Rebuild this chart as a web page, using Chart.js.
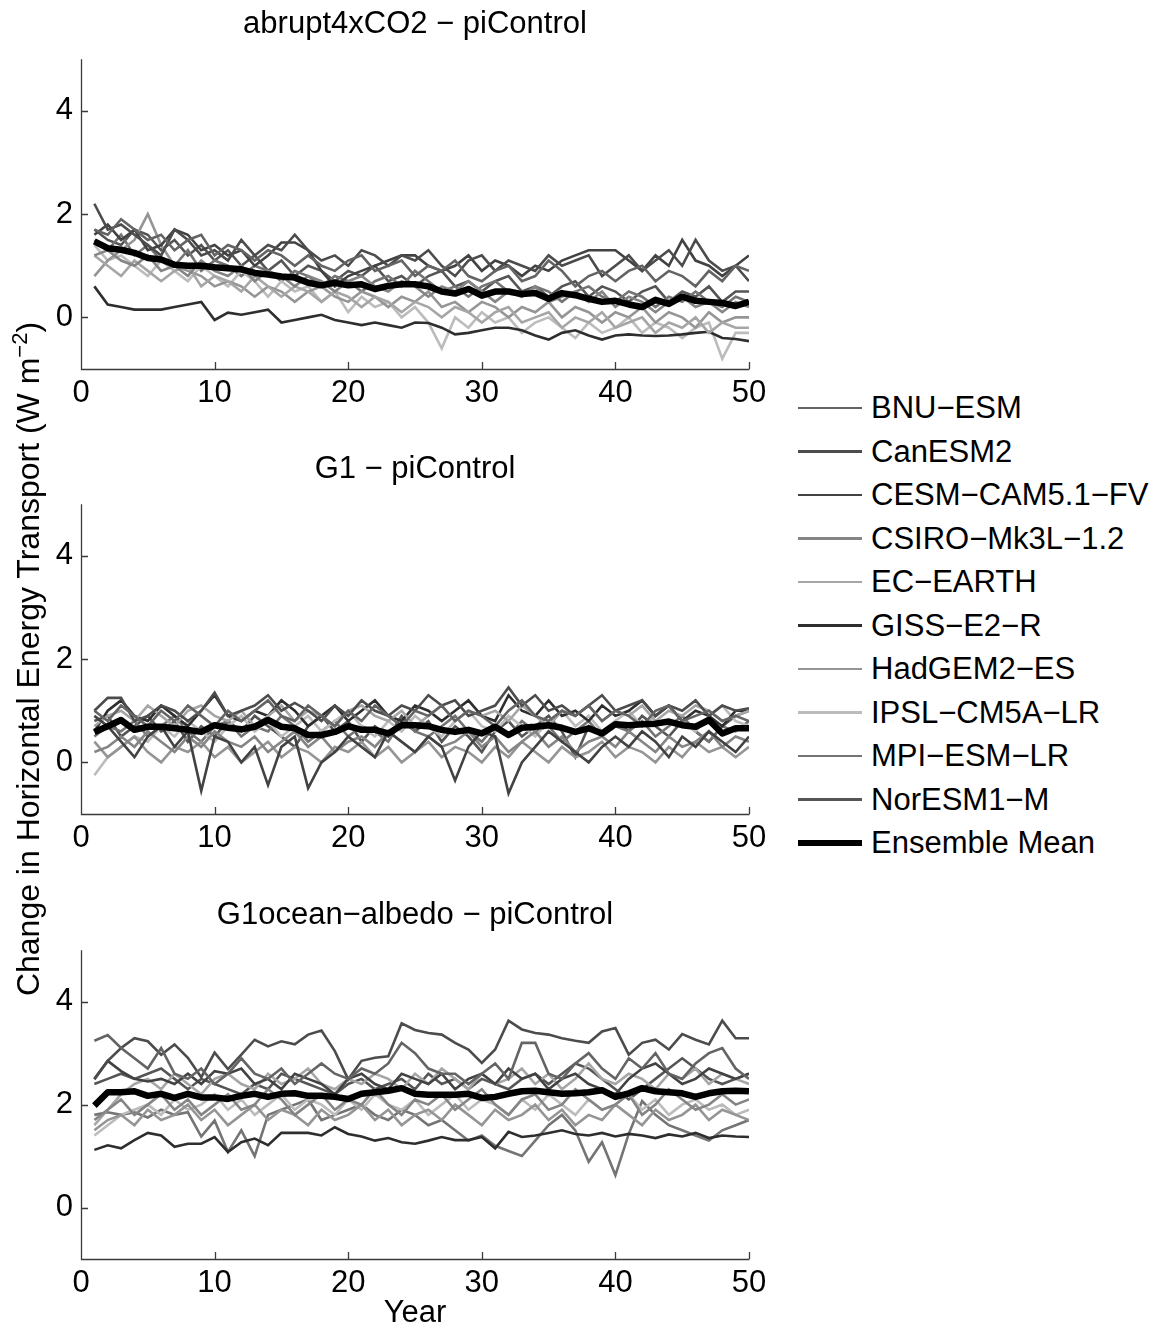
<!DOCTYPE html>
<html>
<head>
<title>Change in Horizontal Energy Transport</title>
<script src="https://cdn.jsdelivr.net/npm/chart.js"></script>
<style>
  body { margin: 0; background: #fff; width: 1162px; height: 1332px; position: relative; overflow: hidden;
         font-family: "Liberation Sans", Arial, sans-serif; color: #000; }
  .panel { position: absolute; left: 0; }
  #ytitle { position: absolute; left: -372px; top: 639px; width: 800px; height: 40px; line-height: 40px;
            text-align: center; font-size: 32px; transform: rotate(-90deg); white-space: nowrap; }
  #ytitle sup { font-size: 22px; vertical-align: 12px; line-height: 0; }
  .lg-line { position: absolute; left: 798px; width: 64px; }
  .lg-text { position: absolute; left: 871px; font-size: 31px; line-height: 36px; white-space: nowrap; }
</style>
</head>
<body>
<div class="panel" style="top:0px"><canvas id="abrupt" width="780" height="414"></canvas></div>
<div class="panel" style="top:445px"><canvas id="g1" width="780" height="414"></canvas></div>
<div class="panel" style="top:891px"><canvas id="g1ocean" width="780" height="441"></canvas></div>
<div id="ytitle">Change in Horizontal Energy Transport (W m<sup>−2</sup>)</div>
<div id="legend"></div>

<script>
// x axis: model years
const years = [1,2,3,4,5,6,7,8,9,10,11,12,13,14,15,16,17,18,19,20,21,22,23,24,25,
               26,27,28,29,30,31,32,33,34,35,36,37,38,39,40,41,42,43,44,45,46,47,48,49,50];
const xTicks = [0, 10, 20, 30, 40, 50];
const yTicks = [0, 2, 4];

const models = ['BNU−ESM', 'CanESM2', 'CESM−CAM5.1−FV', 'CSIRO−Mk3L−1.2', 'EC−EARTH',
                'GISS−E2−R', 'HadGEM2−ES', 'IPSL−CM5A−LR', 'MPI−ESM−LR', 'NorESM1−M'];
const modelGrays = ['#646464', '#4c4c4c', '#424242', '#858585', '#a6a6a6',
                    '#2e2e2e', '#959595', '#bcbcbc', '#747474', '#555555'];

// ---- abrupt4xCO2 - piControl ----
const abruptBNU = [1.7,1.6,1.9,1.7,1.5,1.6,1.3,1.5,1.6,1.2, 1.4,1.3,1.1,1.3,1.2,1.0,1.2,1.0,0.9,1.1,
                   1.2,0.9,1.0,1.1,0.8,1.0,0.9,1.1,0.8,0.7, 0.9,1.0,0.7,0.8,1.1,0.9,0.6,0.8,0.9,0.7,
                   0.9,1.0,0.7,0.9,0.8,0.6,0.9,0.7,1.0,0.9];
const abruptCan = [2.2,1.7,1.8,1.6,1.4,1.2,1.7,1.5,1.2,1.3, 1.1,1.5,1.2,1.4,1.3,1.6,1.3,1.1,1.2,1.0,
                   1.3,1.2,1.0,1.2,1.1,1.3,1.0,0.8,1.1,1.2, 0.9,1.1,1.0,0.9,1.2,1.0,1.1,1.2,0.8,1.0,
                   1.2,0.9,1.1,1.3,1.0,1.5,1.1,0.9,1.0,0.7];
const abruptCESM = [1.6,1.8,1.5,1.7,1.3,1.4,1.7,1.6,1.3,1.4, 1.2,1.3,1.0,1.2,1.45,1.45,1.3,0.9,0.6,0.8,
                    0.9,1.0,1.1,1.2,1.2,1.0,0.9,1.0,1.2,0.9, 1.1,1.0,0.8,1.0,0.9,1.1,1.2,1.3,1.3,1.3,
                    1.1,0.9,1.2,1.0,1.5,1.1,1.0,0.8,1.0,1.2];
const abruptCSIRO = [1.2,1.3,1.1,1.0,1.2,0.9,1.0,0.8,1.1,0.9, 0.8,1.0,0.7,0.9,0.8,0.6,0.8,0.7,0.5,0.7,
                     0.8,0.6,0.5,0.7,0.6,0.4,0.6,0.5,0.7,0.5, 0.3,0.5,0.4,0.6,0.3,0.4,0.5,0.3,0.5,0.2,
                     0.4,0.3,0.1,0.3,0.4,0.2,0.3,0.1,0.3,0.2];
const abruptEC = [1.2,1.0,0.8,1.1,0.9,0.7,0.9,1.0,0.6,0.8, 0.7,0.5,0.8,0.6,0.4,0.6,0.5,0.3,0.5,0.4,
                  0.2,0.4,0.3,0.1,0.3,0.2,0.0,0.2,0.1,-0.1, 0.1,0.2,-0.1,0.0,0.1,-0.2,0.0,-0.1,0.1,-0.2,
                  -0.1,0.0,-0.3,-0.1,-0.2,0.0,-0.3,-0.1,-0.2,-0.2];
const abruptGISS = [0.6,0.25,0.2,0.15,0.15,0.15,0.2,0.25,0.3,-0.05, 0.09,0.05,0.1,0.15,-0.1,-0.05,0.0,0.05,-0.05,-0.1,
                    -0.15,-0.1,-0.15,-0.2,-0.1,-0.11,-0.2,-0.33,-0.3,-0.25, -0.2,-0.2,-0.25,-0.35,-0.43,-0.3,-0.25,-0.35,-0.43,-0.35,
                    -0.33,-0.35,-0.36,-0.35,-0.33,-0.3,-0.28,-0.4,-0.42,-0.46];
const abruptHad = [0.8,1.1,1.3,1.5,2.0,1.4,1.0,0.9,0.8,0.6, 0.7,0.6,0.4,0.6,0.5,0.3,0.5,0.6,0.4,0.3,
                   0.5,0.4,0.2,0.4,0.3,0.5,0.2,0.3,0.1,0.3, 0.2,0.0,0.2,0.1,0.3,0.0,0.2,0.1,-0.1,0.1,
                   0.0,0.2,-0.1,0.1,0.0,-0.2,0.1,-0.1,0.0,0.0];
const abruptIPSL = [1.4,1.1,1.2,1.0,0.8,1.1,0.9,0.7,1.0,0.8, 0.6,0.9,0.7,0.4,0.7,0.5,0.6,0.3,0.5,0.1,
                    0.4,0.2,0.3,0.0,0.2,-0.1,-0.6,0.0,-0.2,0.1, -0.1,0.0,-0.3,-0.1,0.0,-0.2,-0.4,-0.1,-0.3,-0.2,
                    0.0,-0.3,-0.1,-0.2,-0.4,-0.2,-0.1,-0.8,-0.3,-0.3];
const abruptMPI = [1.5,1.3,1.6,1.2,1.4,1.1,1.0,1.3,0.9,1.1, 1.0,0.8,1.0,0.9,0.7,0.9,0.8,0.6,0.8,0.7,
                   0.5,0.7,0.8,0.6,0.9,0.7,0.5,0.6,0.4,0.6, 0.7,0.5,0.4,0.6,0.5,0.3,0.5,0.6,0.4,0.3,
                   0.5,0.4,0.2,0.4,0.3,0.5,0.3,0.2,0.4,0.3];
const abruptNor = [1.7,1.5,1.4,1.7,1.6,1.3,1.5,1.2,1.4,1.1, 1.3,1.0,1.2,0.9,1.1,0.8,1.0,0.9,0.7,0.9,
                   0.8,1.0,0.7,0.8,0.6,0.8,0.9,0.6,0.7,0.5, 0.7,0.8,0.5,0.6,0.4,0.6,0.7,0.4,0.6,0.5,
                   0.3,0.5,0.6,0.3,0.5,0.4,0.6,0.3,0.5,0.5];
const abruptMean = [1.47,1.34,1.31,1.25,1.15,1.12,1.02,1.0,1.0,0.97, 0.95,0.93,0.86,0.83,0.79,0.77,0.67,0.62,0.67,0.62,
                    0.64,0.55,0.61,0.64,0.64,0.6,0.5,0.46,0.55,0.42, 0.5,0.5,0.45,0.47,0.36,0.47,0.43,0.36,0.3,0.32,
                    0.25,0.2,0.34,0.26,0.4,0.32,0.3,0.28,0.22,0.3];

// ---- G1 - piControl ----
const g1BNU = [1.0,0.8,1.1,0.9,0.7,1.0,0.8,1.1,0.9,0.7, 1.0,0.8,1.0,1.2,0.9,0.8,1.1,0.9,0.7,1.0,
               0.8,1.1,0.9,0.7,1.0,0.9,1.1,0.8,1.0,0.9, 0.7,1.0,1.2,0.9,0.8,1.0,0.9,1.1,0.8,1.0,
               0.9,0.7,1.0,1.1,0.8,0.9,1.0,0.8,0.9,0.8];
const g1Can = [1.0,1.25,1.25,0.8,0.9,1.1,1.0,0.8,1.0,1.35, 0.9,1.0,1.1,1.3,1.0,1.15,1.0,0.8,1.1,0.9,
               1.2,1.0,0.9,1.1,1.0,1.3,1.1,1.2,0.9,1.0, 1.1,1.45,1.1,1.3,1.0,1.1,0.9,1.1,1.3,1.0,
               1.1,1.2,0.9,1.1,1.0,1.2,0.9,1.1,1.0,1.05];
const g1CESM = [0.9,0.7,0.4,0.1,0.5,0.7,0.3,0.6,-0.55,0.5, 0.4,0.0,0.3,-0.44,0.3,0.5,-0.5,0.0,0.2,0.5,
                0.3,0.1,0.6,0.4,0.2,0.5,0.3,-0.35,0.3,0.6, 0.5,-0.6,0.0,0.3,0.6,0.4,0.2,0.0,0.3,0.5,
                0.3,0.6,0.4,0.1,0.5,0.3,0.6,0.4,0.2,0.5];
const g1CSIRO = [0.2,0.3,0.5,0.3,0.6,0.4,0.2,0.5,0.3,0.6, 0.4,0.3,0.5,0.2,0.4,0.6,0.3,0.5,0.2,0.4,
                 0.5,0.3,0.6,0.4,0.2,0.5,0.3,0.4,0.6,0.3, 0.5,0.2,0.4,0.6,0.3,0.5,0.2,0.4,0.5,0.3,
                 0.6,0.4,0.2,0.5,0.3,0.4,0.6,0.3,0.5,0.4];
const g1EC = [0.7,0.9,1.0,0.8,1.1,0.9,0.7,1.0,1.1,0.9, 0.8,1.0,0.7,0.9,1.1,0.8,1.0,0.9,0.7,1.0,
              1.1,0.9,0.8,1.0,0.7,0.9,1.1,0.8,1.0,0.9, 1.0,0.8,1.1,0.9,0.7,1.0,0.9,1.1,0.8,1.0,
              0.9,1.1,0.8,1.0,0.9,1.1,1.0,0.8,0.9,1.0];
const g1GISS = [0.6,1.0,1.2,0.9,0.8,1.1,0.9,0.7,1.0,1.3, 0.9,0.8,1.0,0.9,1.2,1.0,0.7,0.9,1.1,0.8,
                1.0,1.2,0.9,0.8,1.1,1.0,0.8,1.0,1.2,0.9, 0.8,1.3,1.0,0.9,1.2,0.9,1.0,0.8,1.1,0.9,
                1.0,1.2,0.9,1.1,0.8,1.0,0.9,0.7,1.0,1.0];
const g1Had = [0.4,0.1,0.3,0.5,0.2,0.0,0.3,0.2,0.4,0.1, 0.3,0.0,0.2,0.4,0.1,0.3,0.2,0.0,0.3,0.2,
               0.4,0.1,0.3,0.0,0.2,0.4,0.1,0.3,0.2,0.0, 0.3,0.1,0.4,0.2,0.0,0.3,0.1,0.2,0.4,0.1,
               0.3,0.2,0.0,0.3,0.1,0.4,0.2,0.3,0.1,0.3];
const g1IPSL = [-0.25,0.1,0.3,0.5,0.4,0.7,0.5,0.8,0.6,0.4, 0.7,0.9,0.6,0.8,0.5,0.7,0.9,0.6,0.8,1.0,
                0.7,0.5,0.8,0.6,0.9,0.7,0.5,0.8,1.0,0.7, 0.6,0.9,0.7,0.5,0.8,1.0,0.7,0.9,0.6,0.8,
                1.0,0.7,0.9,1.1,0.8,0.6,0.9,1.1,0.8,0.7];
const g1MPI = [0.5,0.7,0.6,0.8,0.5,0.7,0.9,0.6,0.4,0.7, 0.8,0.5,0.7,0.6,0.9,0.7,0.4,0.6,0.8,0.5,
               0.7,0.6,0.4,0.8,0.6,0.5,0.7,0.9,0.6,0.4, 0.7,0.5,0.8,0.6,0.7,0.4,0.6,0.8,0.5,0.7,
               0.6,0.8,0.5,0.7,0.9,0.6,0.4,0.7,0.6,0.8];
const g1Nor = [0.8,0.9,0.5,0.7,0.9,0.6,0.8,0.4,0.7,0.5, 0.8,0.6,0.9,0.7,0.5,0.3,0.7,0.9,0.6,0.8,
               0.4,0.7,0.5,0.9,0.6,0.8,0.4,0.7,0.5,0.2, 0.6,0.8,0.5,0.7,0.9,0.6,0.1,0.7,0.5,0.8,
               0.6,0.9,0.7,0.5,0.8,0.6,0.4,0.7,0.9,1.0];
const g1Mean = [0.59,0.70,0.82,0.63,0.69,0.69,0.66,0.63,0.59,0.72, 0.67,0.64,0.69,0.82,0.69,0.66,0.53,0.53,0.59,0.70,
                0.63,0.63,0.56,0.72,0.72,0.70,0.63,0.59,0.63,0.56, 0.69,0.53,0.67,0.69,0.72,0.67,0.59,0.66,0.56,0.74,
                0.72,0.74,0.75,0.79,0.72,0.69,0.82,0.56,0.66,0.66];

// ---- G1ocean-albedo - piControl ----
const oceanBNU = [3.24,3.35,3.1,2.9,2.7,3.1,2.6,2.5,2.7,2.4, 2.6,2.9,2.6,2.5,2.7,2.4,2.6,2.8,2.6,2.5,
                  2.7,2.6,2.8,3.2,3.0,2.7,2.6,2.6,2.4,2.6, 2.8,2.5,3.2,3.2,2.6,2.5,2.8,3.0,2.7,2.5,
                  2.9,2.7,3.0,2.6,2.5,2.8,3.0,3.1,2.7,2.5];
const oceanCan = [2.49,2.85,3.1,3.29,3.23,2.97,3.17,2.91,2.53,3.01, 2.69,2.97,3.26,3.13,3.23,3.17,3.36,3.44,3.04,2.49,
                  2.85,2.91,2.94,3.58,3.45,3.39,3.36,3.2,3.07,2.81, 3.07,3.63,3.46,3.39,3.36,3.29,3.24,3.2,3.42,3.49,
                  2.97,3.2,3.26,3.07,3.37,3.26,3.17,3.63,3.29,3.29];
const oceanCESM = [2.5,2.85,2.65,2.5,2.45,2.5,2.4,2.6,2.4,2.65, 2.6,2.7,2.4,2.5,2.3,2.6,2.5,2.4,2.2,2.5,
                   2.6,2.4,2.3,2.6,2.5,2.4,2.6,2.3,2.5,2.6, 2.4,2.7,2.5,2.6,2.3,2.5,2.6,2.4,2.3,2.2,
                   2.5,2.7,2.8,2.6,2.4,2.5,2.7,2.6,2.5,2.6];
const oceanCSIRO = [1.7,1.9,2.1,1.8,2.0,2.2,1.9,2.1,1.8,2.0, 2.2,1.9,2.0,2.3,2.1,1.8,2.0,2.2,1.9,2.1,
                    2.0,2.3,2.0,1.8,2.1,2.0,2.2,1.9,2.1,2.3, 2.0,1.8,2.1,2.2,1.9,2.0,2.3,2.1,1.9,2.0,
                    2.2,1.8,2.0,2.3,2.1,1.9,2.0,2.2,2.0,2.1];
const oceanEC = [1.6,1.9,2.2,2.4,2.5,2.3,2.6,2.4,2.2,2.5, 2.6,2.4,2.3,2.6,2.4,2.5,2.7,2.4,2.3,2.5,
                 2.4,2.6,2.5,2.3,2.6,2.4,2.7,2.5,2.3,2.6, 2.4,2.5,2.7,2.4,2.6,2.3,2.5,2.8,2.5,2.4,
                 2.6,2.5,2.3,2.6,2.5,2.7,2.4,2.6,2.5,2.4];
const oceanGISS = [1.12,1.21,1.15,1.31,1.45,1.40,1.18,1.24,1.24,1.37, 1.08,1.27,1.34,1.21,1.45,1.45,1.45,1.40,1.56,1.43,
                   1.38,1.30,1.35,1.27,1.24,1.30,1.37,1.31,1.31,1.37, 1.15,1.47,1.37,1.40,1.45,1.50,1.43,1.40,1.45,1.38,
                   1.43,1.40,1.35,1.42,1.38,1.45,1.35,1.40,1.38,1.37];
const oceanHad = [1.5,1.7,1.8,1.6,1.9,1.7,1.8,2.0,1.7,1.9, 1.6,1.8,2.0,1.7,1.9,1.8,1.6,1.9,1.7,1.8,
                  2.0,1.7,1.9,1.6,1.8,1.9,1.7,2.0,1.8,1.6, 1.9,1.7,1.8,2.0,1.7,1.9,1.6,1.8,1.7,2.0,
                  1.8,1.6,1.9,1.7,1.8,2.0,1.7,1.9,1.8,1.7];
const oceanIPSL = [1.4,1.6,1.8,1.9,2.0,1.8,2.1,1.9,2.0,2.2, 1.9,2.1,1.8,2.0,2.2,1.9,2.1,2.0,1.8,2.1,
                   1.9,2.2,2.0,1.9,2.1,1.8,2.0,2.2,1.9,2.1, 2.0,1.8,2.1,1.9,2.2,2.0,1.8,2.1,1.9,2.0,
                   2.2,1.9,2.1,1.8,2.0,2.1,1.9,2.0,1.8,1.9];
const oceanMPI = [1.8,1.85,1.8,1.85,1.75,1.9,1.8,1.85,1.38,1.69, 1.08,1.5,1.0,1.8,1.9,2.0,2.1,1.7,1.8,1.9,
                  2.0,1.8,1.7,1.9,1.8,1.6,1.7,1.5,1.3,1.4, 1.2,1.1,1.0,1.3,1.6,1.8,1.5,0.89,1.27,0.63,
                  1.43,2.07,1.8,1.6,1.5,1.4,1.3,1.5,1.6,1.7];
const oceanNor = [2.4,2.5,2.6,2.5,2.6,2.7,2.5,2.3,2.5,2.4, 2.3,2.2,2.4,2.3,2.6,2.5,2.4,2.3,2.2,2.4,
                  2.5,2.3,2.4,2.5,2.3,2.6,2.4,2.5,2.3,2.5, 2.4,2.3,2.5,2.6,2.4,2.6,2.8,2.7,2.5,2.3,
                  2.1,2.3,2.5,2.7,2.9,2.7,2.5,2.4,2.5,2.6];
const oceanMean = [1.98,2.24,2.24,2.26,2.17,2.21,2.13,2.21,2.14,2.14, 2.11,2.17,2.21,2.15,2.21,2.22,2.17,2.17,2.15,2.11,
                   2.21,2.24,2.27,2.32,2.21, 2.19,2.19,2.19,2.21,2.13, 2.15,2.21,2.26,2.27,2.24,2.21,2.22,2.24,2.28,2.15,
                   2.22,2.32,2.26,2.24,2.22,2.15,2.22,2.26,2.27,2.26];

const abruptRuns = [abruptBNU, abruptCan, abruptCESM, abruptCSIRO, abruptEC, abruptGISS, abruptHad, abruptIPSL, abruptMPI, abruptNor];
const g1Runs = [g1BNU, g1Can, g1CESM, g1CSIRO, g1EC, g1GISS, g1Had, g1IPSL, g1MPI, g1Nor];
const oceanRuns = [oceanBNU, oceanCan, oceanCESM, oceanCSIRO, oceanEC, oceanGISS, oceanHad, oceanIPSL, oceanMPI, oceanNor];

Chart.defaults.font.family = '"Liberation Sans", Arial, sans-serif';
Chart.defaults.color = '#000';

// matlab style axes: left + bottom line, ticks pointing inward
const inwardAxes = {
    id: 'inwardAxes',
    afterDraw(chart) {
        const ctx = chart.ctx;
        const a = chart.chartArea;
        const x = chart.scales.x, y = chart.scales.y;
        ctx.save();
        ctx.strokeStyle = '#3a3a3a';
        ctx.lineWidth = 1.3;
        ctx.beginPath();
        ctx.moveTo(a.left + 0.5, a.top);
        ctx.lineTo(a.left + 0.5, a.bottom + 0.5);
        ctx.lineTo(a.right + 0.5, a.bottom + 0.5);
        xTicks.forEach(v => {
            const px = Math.round(x.getPixelForValue(v)) + 0.5;
            ctx.moveTo(px, a.bottom);
            ctx.lineTo(px, a.bottom - 7);
        });
        yTicks.forEach(v => {
            const py = Math.round(y.getPixelForValue(v)) + 0.5;
            ctx.moveTo(a.left, py);
            ctx.lineTo(a.left + 7, py);
        });
        ctx.stroke();
        ctx.restore();
    }
};

function makePanel(canvasId, title, runs, mean, showYear) {
    const datasets = runs.map((vals, i) => ({
        label: models[i],
        data: vals.map((v, j) => ({ x: years[j], y: v })),
        borderColor: modelGrays[i],
        borderWidth: 2.6,
        pointRadius: 0,
        order: 1
    }));
    datasets.push({
        label: 'Ensemble Mean',
        data: mean.map((v, j) => ({ x: years[j], y: v })),
        borderColor: '#000',
        borderWidth: 6.5,
        borderJoinStyle: 'round',
        pointRadius: 0,
        order: 0
    });

    const ctx = document.getElementById(canvasId).getContext('2d');
    new Chart(ctx, {
        type: 'line',
        data: { datasets },
        plugins: [inwardAxes],
        options: {
            responsive: false,
            animation: false,
            layout: { padding: { left: 0, right: 31, top: 0, bottom: 0 } },
            plugins: {
                legend: { display: false },
                tooltip: { enabled: false },
                title: {
                    display: true,
                    text: title,
                    fullSize: false,
                    color: '#000',
                    font: { size: 31, weight: 'normal' },
                    padding: { top: 6, bottom: 16 }
                }
            },
            scales: {
                x: {
                    type: 'linear',
                    min: 0,
                    max: 50,
                    grid: { display: false, drawTicks: false },
                    border: { display: false },
                    afterBuildTicks: s => { s.ticks = xTicks.map(v => ({ value: v })); },
                    afterFit: s => { s.height = showYear ? 73 : 45; },
                    ticks: { color: '#000', font: { size: 31 }, padding: 6, maxRotation: 0, autoSkip: false },
                    title: { display: showYear, text: 'Year', color: '#000', font: { size: 31 }, padding: 0 }
                },
                y: {
                    min: -1,
                    max: 5,
                    grid: { display: false, drawTicks: false },
                    border: { display: false },
                    afterBuildTicks: s => { s.ticks = yTicks.map(v => ({ value: v })); },
                    afterFit: s => { s.width = 81; },
                    ticks: { color: '#000', font: { size: 31 }, padding: 8 }
                }
            }
        }
    });
}

makePanel('abrupt', 'abrupt4xCO2 − piControl', abruptRuns, abruptMean, false);
makePanel('g1', 'G1 − piControl', g1Runs, g1Mean, false);
makePanel('g1ocean', 'G1ocean−albedo − piControl', oceanRuns, oceanMean, true);

// legend on the right
const legend = document.getElementById('legend');
const legendNames = models.concat(['Ensemble Mean']);
legendNames.forEach((name, i) => {
    const cy = 408 + i * 43.5;
    const mean = i === models.length;
    const w = mean ? 6.5 : 2.6;
    const line = document.createElement('div');
    line.className = 'lg-line';
    line.style.top = (cy - w / 2) + 'px';
    line.style.height = w + 'px';
    line.style.background = mean ? '#000' : modelGrays[i];
    legend.appendChild(line);
    const txt = document.createElement('div');
    txt.className = 'lg-text';
    txt.style.top = (cy - 18) + 'px';
    txt.textContent = name;
    legend.appendChild(txt);
});
</script>
</body>
</html>
